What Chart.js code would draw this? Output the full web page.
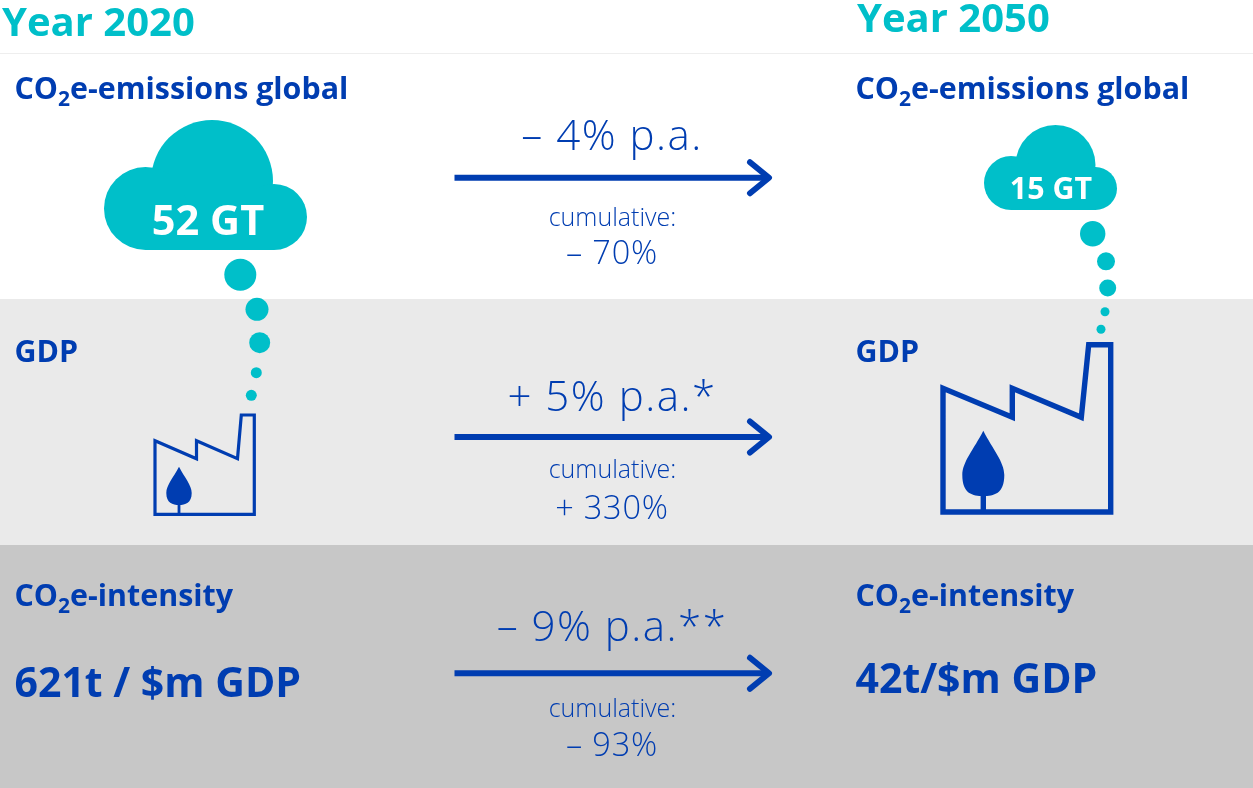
<!DOCTYPE html>
<html>
<head>
<meta charset="utf-8">
<title>Year 2020 to Year 2050</title>
<script src="https://cdn.jsdelivr.net/npm/chart.js@4/dist/chart.umd.min.js"></script>
<style>
  html, body { margin: 0; padding: 0; background: #fff; }
  canvas { display: block; }
</style>
</head>
<body>
<canvas id="chart" width="1253" height="788"></canvas>
<script>
// values
const years = ["Year 2020", "Year 2050"];
const emissionsGt = [52, 15];
const intensityLabels = ["621t / $m GDP", "42t/$m GDP"];
const annualRates = ["– 4% p.a.", "+ 5% p.a.*", "– 9% p.a.**"];
const cumulativeChanges = ["– 70%", "+ 330%", "– 93%"];
const cumulativeLabel = "cumulative:";

const BLUE = "#003db1";
const TEAL = "#00bfc9";
const FONT = '"Open Sans", "Noto Sans", sans-serif';

// page geometry, in axis units (1 unit = 1 px at this size)
const rowBands = [
  { top: 299, bottom: 545, color: "#eaeaea" },
  { top: 545, bottom: 788, color: "#c7c7c7" }
];
const arrowYs = [177.7, 437, 673.3];
const arrowStart = 454.5, arrowTip = 769, arrowHead = 19, arrowFlare = 15.5;

const puffs = [
  { x: [240.3, 257, 259.7, 256.3, 251.3], y: [274.7, 309.3, 342.7, 372.7, 395.3], r: [16, 11.5, 10.5, 5.5, 5.5] },
  { x: [1092.7, 1106, 1107.7, 1105, 1101], y: [233.7, 261.3, 288, 311.7, 329.3], r: [12.7, 9, 8.5, 4.5, 4.5] }
];
const factories = [
  { x: [155, 155, 196.5, 196.5, 237.5, 241.3, 254.3, 254.3, 155], y: [514.3, 440.7, 458.7, 440.7, 458.7, 415, 415, 514.3, 514.3], width: 3.2 },
  { x: [943, 943, 1012.3, 1012.3, 1081.3, 1088.7, 1110.7, 1110.7, 943], y: [512, 388.3, 417.3, 388.3, 417.3, 344.7, 344.7, 512, 512], width: 5.4 }
];
const trees = [
  { x: 179, apex: 466.7, wide: 493, half: 12.7, bottom: 505, foot: 514, trunk: 2.8 },
  { x: 983.3, apex: 430.7, wide: 475, half: 21, bottom: 496, foot: 510, trunk: 5.4 }
];
const clouds = [
  { lobes: [[212, 181, 61], [145.5, 208.5, 41.5], [274, 217, 33]], left: 145.5, right: 274, top: 208, bottom: 250 },
  { lobes: [[1055.5, 165, 40], [1011, 183, 27], [1095.5, 188.5, 21.5]], left: 1011, right: 1095.5, top: 183, bottom: 210 }
];

function lineSet(xs, ys, width, cap) {
  return {
    type: "line",
    data: xs.map((x, i) => ({ x: x, y: ys[i] })),
    borderColor: BLUE,
    borderWidth: width,
    borderCapStyle: cap,
    borderJoinStyle: cap === "round" ? "round" : "miter",
    pointRadius: 0,
    tension: 0,
    fill: false
  };
}

const datasets = [];
puffs.forEach(p => datasets.push({
  type: "scatter",
  data: p.x.map((x, i) => ({ x: x, y: p.y[i] })),
  backgroundColor: TEAL,
  borderWidth: 0,
  pointRadius: p.r
}));
factories.forEach(f => datasets.push(lineSet(f.x, f.y, f.width, "square")));
arrowYs.forEach(y => {
  datasets.push(lineSet([arrowStart, arrowTip - 2], [y, y], 6, "butt"));
  datasets.push(lineSet([arrowTip - arrowHead, arrowTip, arrowTip - arrowHead], [y - arrowFlare, y, y + arrowFlare], 6, "round"));
});

function put(ctx, text, x, y, font, color, align, spacing) {
  ctx.font = font;
  ctx.fillStyle = color;
  ctx.textAlign = align || "left";
  ctx.textBaseline = "alphabetic";
  ctx.letterSpacing = (spacing || 0) + "px";
  ctx.fillText(text, x, y);
}

// CO2 heading with a lowered, smaller 2
function co2Heading(ctx, rest, x, y) {
  const main = "700 30.4px " + FONT;
  put(ctx, "CO", x, y, main, BLUE);
  let pos = x + ctx.measureText("CO").width;
  put(ctx, "2", pos, y + 7, "700 21px " + FONT, BLUE);
  pos += ctx.measureText("2").width;
  put(ctx, rest, pos, y, main, BLUE);
}

const backdrop = {
  id: "backdrop",
  beforeDatasetsDraw(chart) {
    const ctx = chart.ctx, sx = chart.scales.x, sy = chart.scales.y;
    ctx.save();
    rowBands.forEach(b => {
      ctx.fillStyle = b.color;
      ctx.fillRect(sx.getPixelForValue(0), sy.getPixelForValue(b.top), sx.width, sy.getPixelForValue(b.bottom) - sy.getPixelForValue(b.top));
    });
    ctx.fillStyle = "#eeeeee";
    ctx.fillRect(0, sy.getPixelForValue(53), sx.width, 1);
    ctx.restore();
  }
};

const pictograms = {
  id: "pictograms",
  afterDatasetsDraw(chart) {
    const ctx = chart.ctx, sx = chart.scales.x, sy = chart.scales.y;
    const X = v => sx.getPixelForValue(v), Y = v => sy.getPixelForValue(v);
    ctx.save();

    // clouds: three lobes on a flat base
    ctx.fillStyle = TEAL;
    clouds.forEach(c => {
      c.lobes.forEach(l => {
        ctx.beginPath();
        ctx.arc(X(l[0]), Y(l[1]), l[2], 0, Math.PI * 2);
        ctx.fill();
      });
      ctx.fillRect(X(c.left), Y(c.top), X(c.right) - X(c.left), Y(c.bottom) - Y(c.top));
    });

    // trees inside the factories
    ctx.fillStyle = BLUE;
    trees.forEach(t => {
      const rise = t.wide - t.apex;
      ctx.beginPath();
      ctx.moveTo(X(t.x), Y(t.apex));
      ctx.bezierCurveTo(X(t.x - t.half * 0.45), Y(t.apex + rise * 0.42), X(t.x - t.half), Y(t.wide - rise * 0.3), X(t.x - t.half), Y(t.wide));
      ctx.bezierCurveTo(X(t.x - t.half), Y(t.bottom - 2), X(t.x - t.half * 0.5), Y(t.bottom), X(t.x), Y(t.bottom));
      ctx.bezierCurveTo(X(t.x + t.half * 0.5), Y(t.bottom), X(t.x + t.half), Y(t.bottom - 2), X(t.x + t.half), Y(t.wide));
      ctx.bezierCurveTo(X(t.x + t.half), Y(t.wide - rise * 0.3), X(t.x + t.half * 0.45), Y(t.apex + rise * 0.42), X(t.x), Y(t.apex));
      ctx.fill();
      ctx.fillRect(X(t.x) - t.trunk / 2, Y(t.bottom - 1), t.trunk, Y(t.foot) - Y(t.bottom - 1));
    });

    // column headings
    const heading = "700 40px " + FONT;
    put(ctx, years[0], X(2), Y(35.5), heading, TEAL);
    put(ctx, years[1], X(857), Y(32), heading, TEAL);

    // left and right row labels
    co2Heading(ctx, "e-emissions global", X(14.5), Y(98.5));
    co2Heading(ctx, "e-emissions global", X(855.5), Y(98.5));
    put(ctx, "GDP", X(14.5), Y(361.5), "700 30.4px " + FONT, BLUE);
    put(ctx, "GDP", X(855.5), Y(361.5), "700 30.4px " + FONT, BLUE);
    co2Heading(ctx, "e-intensity", X(14.5), Y(605.5));
    co2Heading(ctx, "e-intensity", X(855.5), Y(605.5));
    put(ctx, intensityLabels[0], X(14.5), Y(696.5), "700 41px " + FONT, BLUE);
    put(ctx, intensityLabels[1], X(855.5), Y(693), "700 41px " + FONT, BLUE);

    // values inside the clouds
    put(ctx, emissionsGt[0] + " GT", X(208), Y(235), "700 41.5px " + FONT, "#fff", "center");
    put(ctx, emissionsGt[1] + " GT", X(1051), Y(199), "700 30.4px " + FONT, "#fff", "center");

    // middle column: yearly rate over each arrow, cumulative change under it
    const rateY = [150, 411, 641], cumLabelY = [226, 478, 716.5], cumY = [263.5, 518.5, 756];
    annualRates.forEach((rate, i) => {
      put(ctx, rate, X(612), Y(rateY[i]), "300 42px " + FONT, BLUE, "center", 1.5);
      put(ctx, cumulativeLabel, X(612.5), Y(cumLabelY[i]), "300 25px " + FONT, BLUE, "center");
      put(ctx, cumulativeChanges[i], X(612), Y(cumY[i]), "300 32.5px " + FONT, BLUE, "center", 0.8);
    });
    ctx.restore();
  }
};

new Chart(document.getElementById("chart"), {
  data: { datasets: datasets },
  options: {
    responsive: false,
    animation: false,
    events: [],
    layout: { padding: 0, autoPadding: false },
    plugins: { legend: { display: false }, tooltip: { enabled: false } },
    scales: {
      x: { type: "linear", display: false, min: 0, max: 1253 },
      y: { type: "linear", display: false, min: 0, max: 788, reverse: true }
    }
  },
  plugins: [backdrop, pictograms]
});
</script>
</body>
</html>
